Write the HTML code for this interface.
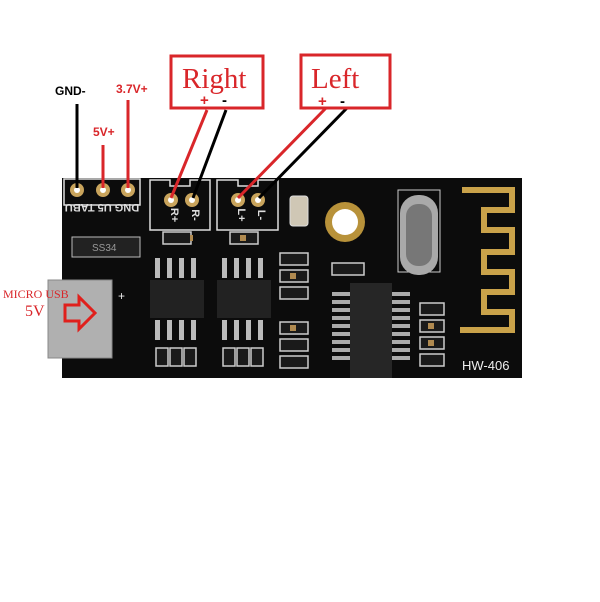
<!DOCTYPE html><html><head><style>body{margin:0;background:#fff}</style></head><body>
<svg width="600" height="602" xmlns="http://www.w3.org/2000/svg" style="display:block">
<rect width="600" height="602" fill="#fff"/>
<rect x="62" y="178" width="460" height="200" fill="#0c0c0c"/>
<g fill="none" stroke="#ddd" stroke-width="1.5">
<rect x="64" y="179" width="76" height="26"/>
<path d="M150 180 V230 H210 V180 H190 V186 H170 V180 Z"/>
<path d="M217 180 V230 H278 V180 H258 V186 H238 V180 Z"/>
</g>
<g fill="#c9a45c"><circle cx="77" cy="190" r="7"/><circle cx="103" cy="190" r="7"/><circle cx="128" cy="190" r="7"/>
<circle cx="171" cy="200" r="7"/><circle cx="192" cy="200" r="7"/><circle cx="238" cy="200" r="7"/><circle cx="258" cy="200" r="7"/></g>
<g fill="#fff"><circle cx="77" cy="190" r="3"/><circle cx="103" cy="190" r="3"/><circle cx="128" cy="190" r="3"/>
<circle cx="171" cy="200" r="3"/><circle cx="192" cy="200" r="3"/><circle cx="238" cy="200" r="3"/><circle cx="258" cy="200" r="3"/></g>
<g font-family="Liberation Sans" font-size="11" fill="#ddd" font-weight="bold">
<text x="102" y="208" transform="rotate(180 102 208)" text-anchor="middle" dy="4">DNG U5 TABU</text>
<text x="171" y="215" text-anchor="middle" transform="rotate(90 171 215)">R+</text>
<text x="192" y="215" text-anchor="middle" transform="rotate(90 192 215)">R-</text>
<text x="238" y="215" text-anchor="middle" transform="rotate(90 238 215)">L+</text>
<text x="258" y="215" text-anchor="middle" transform="rotate(90 258 215)">L-</text>
</g>
<rect x="72" y="237" width="68" height="20" fill="#222" stroke="#bbb"/>
<text x="92" y="251" font-family="Liberation Sans" font-size="10" fill="#999">SS34</text>
<rect x="150" y="280" width="54" height="38" fill="#222"/><rect x="217" y="280" width="54" height="38" fill="#222"/>
<g fill="#bbb"><rect x="155" y="258" width="5" height="20"/><rect x="167" y="258" width="5" height="20"/><rect x="179" y="258" width="5" height="20"/><rect x="191" y="258" width="5" height="20"/>
<rect x="155" y="320" width="5" height="20"/><rect x="167" y="320" width="5" height="20"/><rect x="179" y="320" width="5" height="20"/><rect x="191" y="320" width="5" height="20"/>
<rect x="222" y="258" width="5" height="20"/><rect x="234" y="258" width="5" height="20"/><rect x="246" y="258" width="5" height="20"/><rect x="258" y="258" width="5" height="20"/>
<rect x="222" y="320" width="5" height="20"/><rect x="234" y="320" width="5" height="20"/><rect x="246" y="320" width="5" height="20"/><rect x="258" y="320" width="5" height="20"/>
</g>
<g fill="#1a1a1a" stroke="#ccc" stroke-width="1.5">
<rect x="163" y="232" width="28" height="12"/><rect x="230" y="232" width="28" height="12"/>
<rect x="156" y="348" width="12" height="18"/><rect x="170" y="348" width="12" height="18"/><rect x="184" y="348" width="12" height="18"/>
<rect x="223" y="348" width="12" height="18"/><rect x="237" y="348" width="12" height="18"/><rect x="251" y="348" width="12" height="18"/>
<rect x="280" y="253" width="28" height="12"/><rect x="280" y="270" width="28" height="12"/><rect x="280" y="287" width="28" height="12"/>
<rect x="280" y="322" width="28" height="12"/><rect x="280" y="339" width="28" height="12"/><rect x="280" y="356" width="28" height="12"/>
<rect x="332" y="263" width="32" height="12"/>
<rect x="420" y="303" width="24" height="12"/><rect x="420" y="320" width="24" height="12"/><rect x="420" y="337" width="24" height="12"/><rect x="420" y="354" width="24" height="12"/>
</g>
<g fill="#b08a50"><rect x="190" y="235" width="3" height="6"/><rect x="240" y="235" width="6" height="6"/><rect x="290" y="273" width="6" height="6"/><rect x="290" y="325" width="6" height="6"/><rect x="428" y="323" width="6" height="6"/><rect x="428" y="340" width="6" height="6"/></g>
<rect x="290" y="196" width="18" height="30" rx="3" fill="#cfc7b5" stroke="#ddd"/>
<g fill="#aaa"><rect x="332" y="292" width="18" height="4"/><rect x="332" y="300" width="18" height="4"/><rect x="332" y="308" width="18" height="4"/><rect x="332" y="316" width="18" height="4"/><rect x="332" y="324" width="18" height="4"/><rect x="332" y="332" width="18" height="4"/><rect x="332" y="340" width="18" height="4"/><rect x="332" y="348" width="18" height="4"/><rect x="332" y="356" width="18" height="4"/>
<rect x="392" y="292" width="18" height="4"/><rect x="392" y="300" width="18" height="4"/><rect x="392" y="308" width="18" height="4"/><rect x="392" y="316" width="18" height="4"/><rect x="392" y="324" width="18" height="4"/><rect x="392" y="332" width="18" height="4"/><rect x="392" y="340" width="18" height="4"/><rect x="392" y="348" width="18" height="4"/><rect x="392" y="356" width="18" height="4"/></g>
<rect x="350" y="283" width="42" height="95" fill="#262626"/>
<circle cx="345" cy="222" r="20" fill="#b8923a"/><circle cx="345" cy="222" r="13" fill="#fff"/>
<rect x="398" y="190" width="42" height="82" fill="none" stroke="#ccc"/>
<rect x="400" y="195" width="38" height="80" rx="18" fill="#a9a9a9"/><rect x="406" y="204" width="26" height="62" rx="12" fill="#777"/>
<path d="M462 190 H512 V210 H484 V230 H512 V252 H484 V272 H512 V292 H484 V312 H512 V330 H460" fill="none" stroke="#c9a24a" stroke-width="6"/>
<text x="462" y="370" font-family="Liberation Sans" font-size="13" fill="#eee">HW-406</text>
<rect x="48" y="280" width="64" height="78" fill="#b0b0b0" stroke="#888"/>
<path d="M65 305 h14 v-8 l16 16 l-16 16 v-8 h-14 z" fill="none" stroke="#e0201c" stroke-width="3"/>
<text x="118" y="300" fill="#eee" font-family="Liberation Sans" font-size="12">+</text>
<text x="3" y="298" fill="#d9262a" font-family="Liberation Serif" font-size="12">MICRO USB</text>
<text x="25" y="316" fill="#d9262a" font-family="Liberation Serif" font-size="16">5V</text>
<g stroke-width="3" fill="none">
<line x1="77" y1="104" x2="77" y2="188" stroke="#000"/>
<line x1="103" y1="145" x2="103" y2="188" stroke="#d9262a"/>
<line x1="128" y1="100" x2="128" y2="188" stroke="#d9262a"/>
<line x1="207" y1="110" x2="171" y2="198" stroke="#d9262a"/>
<line x1="226" y1="110" x2="193" y2="198" stroke="#000"/>
<line x1="326" y1="108" x2="238" y2="198" stroke="#d9262a"/>
<line x1="347" y1="108" x2="259" y2="198" stroke="#000"/>
<rect x="171" y="56" width="92" height="52" stroke="#d9262a"/>
<rect x="301" y="55" width="89" height="53" stroke="#d9262a"/>
</g>
<g font-family="Liberation Serif" fill="#d9262a" font-size="29">
<text x="182" y="88">Right</text><text x="311" y="88">Left</text></g>
<g font-family="Liberation Sans" font-weight="bold" font-size="15" fill="#d9262a">
<text x="200" y="105">+</text><text x="222" y="105" fill="#000">-</text>
<text x="318" y="106">+</text><text x="340" y="106" fill="#000">-</text></g>
<g font-family="Liberation Sans" font-weight="bold" font-size="12">
<text x="55" y="95" fill="#000">GND-</text><text x="116" y="93" fill="#d9262a">3.7V+</text><text x="93" y="136" fill="#d9262a">5V+</text></g>
</svg></body></html>
